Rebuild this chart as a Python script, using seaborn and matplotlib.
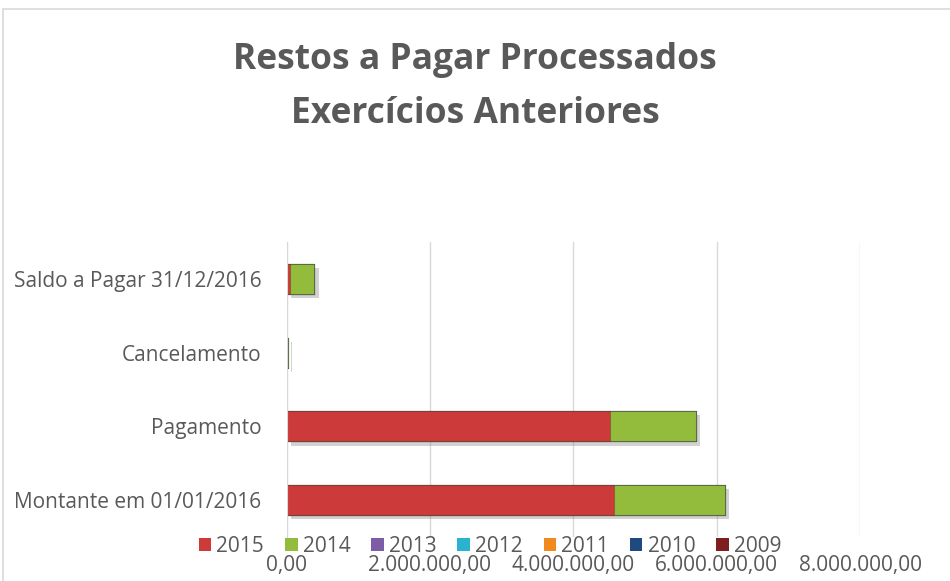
import seaborn as sns
import pandas as pd
import numpy as np
import matplotlib.pyplot as plt
import matplotlib.patheffects as pe
from matplotlib.lines import Line2D
from matplotlib.patches import Patch
from matplotlib.ticker import FuncFormatter

categorias = ['Saldo a Pagar 31/12/2016', 'Cancelamento', 'Pagamento', 'Montante em 01/01/2016']
anos = ['2015', '2014', '2013', '2012', '2011', '2010', '2009']
v2015 = [55000, 5000, 4515000, 4575000]
v2014 = [335000, 10000, 1195000, 1540000]
v2013 = [0, 0, 0, 0]
v2012 = [0, 0, 0, 0]
v2011 = [0, 0, 0, 0]
v2010 = [0, 0, 0, 0]
v2009 = [0, 0, 0, 0]
cores = ['#CD3A3A', '#93BC3C', '#7E5DA8', '#2AB3CF', '#F08A1F', '#1F4A80', '#7D1F1F']

series = [v2015, v2014, v2013, v2012, v2011, v2010, v2009]
df = pd.DataFrame({a: s for a, s in zip(anos, series)}, index=categorias)
acum = df.cumsum(axis=1)

sns.set_style('white')
plt.rcParams['font.family'] = ['Open Sans', 'DejaVu Sans']
cinza = '#595959'

fig = plt.figure(figsize=(9.5, 5.81), dpi=100)
ax = fig.add_axes([286.5 / 950, 1 - 537 / 581, (860 - 286.5) / 950, (537 - 242) / 581])

for i, a in reversed(list(enumerate(anos))):
    d = pd.DataFrame({'cat': categorias, 'v': acum[a].values})
    sns.barplot(data=d, x='v', y='cat', color=cores[i], width=0.41, orient='h',
                ax=ax, saturation=1, edgecolor='#00000030', linewidth=0.8)

# sombra apenas na barra total (primeira camada desenhada)
for p in ax.patches[:len(categorias)]:
    p.set_path_effects([pe.SimplePatchShadow(offset=(3, -3), shadow_rgbFace='#7F7F7F', alpha=0.35),
                        pe.Normal()])

ax.set_xlim(0, 8000000)
ax.set_ylim(3.5, -0.5)
ax.set_xticks([0, 2000000, 4000000, 6000000, 8000000])
ax.xaxis.set_major_formatter(FuncFormatter(
    lambda x, p: f'{x:,.2f}'.replace(',', 'X').replace('.', ',').replace('X', '.')))
ax.grid(axis='x', color='#D9D9D9', linewidth=1)
ax.set_axisbelow(True)
for s in ['top', 'right', 'bottom']:
    ax.spines[s].set_visible(False)
ax.spines['left'].set_color('#D9D9D9')
ax.tick_params(axis='both', length=0, colors=cinza, labelsize=15)
ax.tick_params(axis='x', pad=13)
ax.tick_params(axis='y', pad=18)
ax.set_xlabel('')
ax.set_ylabel('')

fig.suptitle('Restos a Pagar Processados\nExercícios Anteriores', y=1 - 42 / 581,
             fontsize=25.5, fontweight='bold', color=cinza, linespacing=1.65)

handles = [Patch(facecolor=c, edgecolor='none') for c in cores]
fig.legend(handles, anos, loc='center', bbox_to_anchor=(490 / 950, 1 - 546 / 581), ncol=7,
           frameon=False, fontsize=15, handlelength=0.6, handleheight=0.6,
           handletextpad=0.25, columnspacing=1.0, labelcolor=cinza, borderaxespad=0)

fig.add_artist(Line2D([3 / 950, 1], [1 - 9 / 581, 1 - 9 / 581], color='#D9D9D9', lw=1.2,
                      transform=fig.transFigure))
fig.add_artist(Line2D([3 / 950, 3 / 950], [0, 1 - 9 / 581], color='#D9D9D9', lw=1.2,
                      transform=fig.transFigure))

fig.savefig('out.png', dpi=100)
